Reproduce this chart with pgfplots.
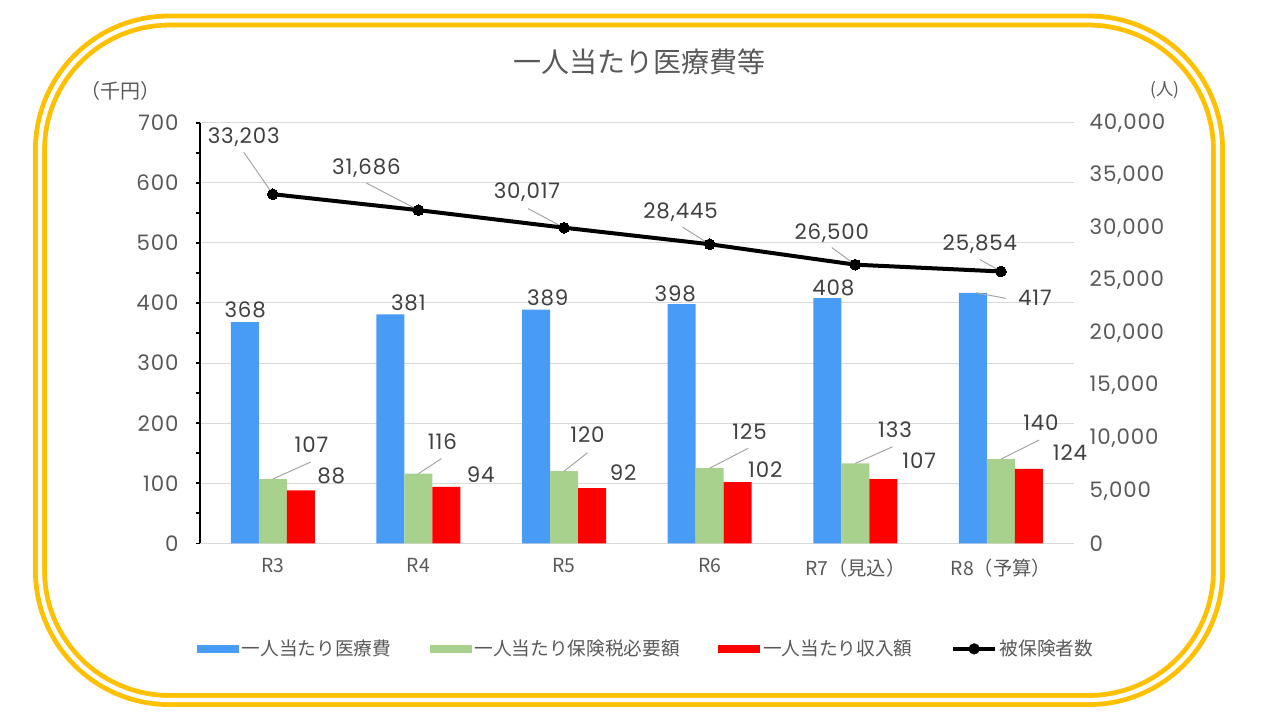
\documentclass[border=0pt]{standalone}
\usepackage{pgfplots}
\pgfplotsset{compat=1.18}
\usepackage{pgfplotstable}
\usepackage{fontspec}
\setmainfont{Poppins}[LetterSpace=4]
\newfontfamily\jp{Noto Sans CJK JP}

\definecolor{frameGold}{HTML}{FFC000}
\definecolor{barBlue}{HTML}{499CF6}
\definecolor{barGreen}{HTML}{A9D18E}
\definecolor{barRed}{HTML}{FF0000}
\definecolor{txtGray}{HTML}{595959}
\definecolor{lblGray}{HTML}{404040}
\definecolor{gridGray}{HTML}{D9D9D9}
\definecolor{leadGray}{HTML}{A6A6A6}

% per-year values; dx/dy place each value label relative to its point (pt)
\pgfplotstableread{
x y dx dy
0 368 0.3 9.5
1 381 13.4 8.3
2 389 8.8 8.9
3 398 -4.8 8.1
4 408 4.5 7.5
5 417 46.5 -3.6
}\medcost
\pgfplotstableread{
x y dx dy
0 107 29 25.5
1 116 18 24.2
2 120 17.6 27.4
3 125 29.9 27.2
4 133 29.8 25
5 140 30 27.5
}\reqtax
\pgfplotstableread{
x y dx dy
0 88 22.8 10.8
1 94 25.7 8.9
2 92 23.3 11.5
3 102 20.7 9
4 107 26.9 13.7
5 124 30.8 12.2
}\income
\pgfplotstableread{
x y dx dy
0 33203 -21.8 42.8
1 31686 -39 31.5
2 30017 -27.8 26.3
3 28445 -21.8 24
4 26500 -17.6 24
5 25854 -15.8 20.3
}\insured

\pgfplotsset{
  offsetlabels/.style={
    nodes near coords,
    visualization depends on={\thisrow{dx}\as\labdx},
    visualization depends on={\thisrow{dy}\as\labdy},
    every node near coord/.append style={anchor=center, xshift=\labdx pt, yshift=\labdy pt,
      font=\fontsize{16}{19}\selectfont, text=lblGray, inner sep=0pt},
  },
}
\tikzset{leader/.style={draw=leadGray, line width=0.75pt}}

\begin{document}
\begin{tikzpicture}[x=1pt,y=1pt]
\useasboundingbox (0,0) rectangle (960,540);
\fill[white] (0,0) rectangle (960,540);
% double gold frame
\draw[frameGold, line width=3.6pt, double=white, double distance=3.2pt, rounded corners=97pt]
  (30,15) rectangle (913.5,524.6);

% title and unit labels
\node[font=\jp\fontsize{21}{24}\selectfont, text=txtGray] at (479.6,493.7) {一人当たり医療費等};
\node[font=\jp\fontsize{15}{17}\selectfont, text=txtGray] at (90,472) {（千円）};
\node[font=\jp\fontsize{13}{15}\selectfont, text=txtGray] at (873.7,472.5) {(人)};

\begin{axis}[
  at={(150pt,132.5pt)}, anchor=south west,
  scale only axis, width=655.3pt, height=315.45pt,
  xmin=-0.5, xmax=5.5, ymin=0, ymax=700,
  ybar=0pt, bar width=21pt,
  axis y line*=left, axis x line*=bottom,
  x axis line style={draw=gridGray, line width=0.75pt},
  y axis line style={draw=black, line width=1.5pt},
  xtick={0,...,5},
  xticklabels={R3,R4,R5,R6,R7（見込）,R8（予算）},
  xtick style={draw=none},
  xticklabel style={font=\jp\fontsize{14.5}{17}\selectfont, text=txtGray, yshift=-5pt},
  ytick={0,100,...,700}, minor ytick={50,150,...,650},
  tick align=outside, major tick length=3pt, minor tick length=3pt,
  ytick style={draw=black, line width=1.2pt},
  ymajorgrids, major grid style={draw=gridGray, line width=0.75pt},
  yticklabel style={font=\fontsize{16}{19}\selectfont, text=txtGray, inner sep=0pt, xshift=-13pt},
  /pgf/number format/assume math mode=true,
  /pgf/number format/1000 sep={,},
  legend style={at={(0.511,-0.251)}, anchor=center, draw=none, fill=none,
    legend columns=4, font=\jp\fontsize{14}{17}\selectfont, text=txtGray,
    /tikz/every even column/.append style={column sep=27pt}},
  legend cell align=left,
]
\addplot[fill=barBlue, draw=none, offsetlabels,
  legend image code/.code={\fill[barBlue] (0pt,-3pt) rectangle (31.5pt,3pt);}]
  table[x=x,y=y]{\medcost};
\addplot[fill=barGreen, draw=none, offsetlabels,
  legend image code/.code={\fill[barGreen] (0pt,-3pt) rectangle (31.5pt,3pt);}]
  table[x=x,y=y]{\reqtax};
\addplot[fill=barRed, draw=none, offsetlabels,
  legend image code/.code={\fill[barRed] (0pt,-3pt) rectangle (31.5pt,3pt);}]
  table[x=x,y=y]{\income};
\addlegendimage{legend image code/.code={\draw[black, line width=3pt] (0pt,0pt) -- (31.5pt,0pt);
  \fill[black] (15.75pt,0pt) circle (4pt);}}
\legend{一人当たり医療費, 一人当たり保険税必要額, 一人当たり収入額, 被保険者数}

% leader lines from the moved labels back to their bars
\draw[leader] (axis cs:0,107) -- ++(28.5pt,12.8pt);
\draw[leader] (axis cs:1,116) -- ++(17.3pt,11.3pt);
\draw[leader] (axis cs:2,120) -- ++(17.6pt,13.9pt);
\draw[leader] (axis cs:3,125) -- ++(28.8pt,14.9pt);
\draw[leader] (axis cs:4,133) -- ++(27.9pt,12.5pt);
\draw[leader] (axis cs:5,140) -- ++(28.7pt,14.4pt);
\draw[leader] (axis cs:5,417) ++(-18.7pt,0pt) -- ++(22.5pt,-4.2pt);
\end{axis}

\begin{axis}[
  at={(150pt,132.5pt)}, anchor=south west,
  scale only axis, width=655.3pt, height=315.45pt,
  xmin=-0.5, xmax=5.5, ymin=0, ymax=40000,
  axis y line*=right, axis x line=none,
  y axis line style={draw=none},
  ytick={0,5000,...,40000}, major tick length=0pt, ytick style={draw=none},
  scaled y ticks=false,
  yticklabel style={font=\fontsize{16}{19}\selectfont, text=txtGray, anchor=west, inner sep=0pt, xshift=11.8pt},
  /pgf/number format/assume math mode=true,
  /pgf/number format/1000 sep={,},
]
\draw[leader] (axis cs:0,33203) -- ++(-21.8pt,31.5pt);
\draw[leader] (axis cs:1,31686) -- ++(-39pt,20.3pt);
\draw[leader] (axis cs:2,30017) -- ++(-27pt,14.3pt);
\draw[leader] (axis cs:3,28445) -- ++(-20.3pt,12.8pt);
\draw[leader] (axis cs:4,26500) -- ++(-17.6pt,12.8pt);
\draw[leader] (axis cs:5,25854) -- ++(-15.8pt,9pt);
\addplot[black, line width=3pt, mark=*, mark size=4pt,
  mark options={fill=black, draw=black, line width=0pt}, offsetlabels]
  table[x=x,y=y]{\insured};
\end{axis}
\end{tikzpicture}
\end{document}
